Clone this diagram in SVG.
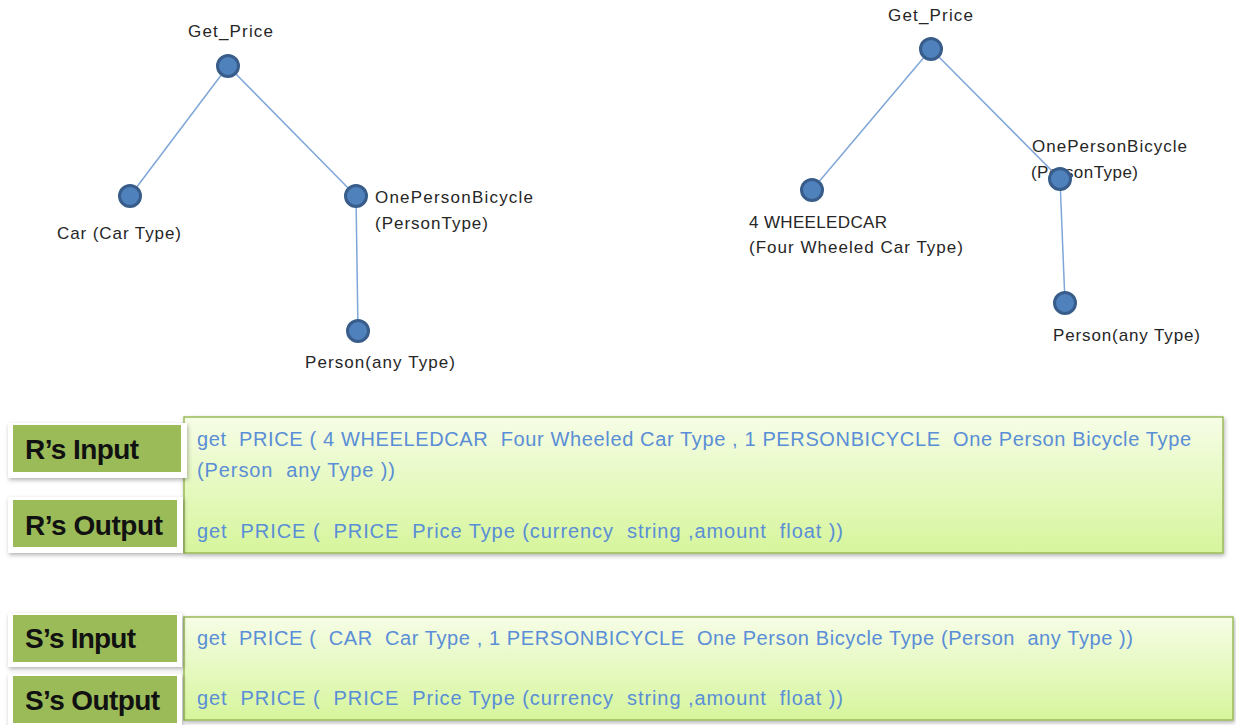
<svg xmlns="http://www.w3.org/2000/svg" width="1236" height="725" viewBox="0 0 1236 725">
<style>
.lbl{font-family:"Liberation Sans",Arial,sans-serif;font-size:17px;fill:#262626}
.nd{fill:#4F81BD;stroke:#385D8A;stroke-width:3}
.ed{stroke:#7FA6D8;stroke-width:1.5;fill:none}
.tag{font-family:"Liberation Sans",Arial,sans-serif;font-size:28px;font-weight:bold;fill:#111}
.code{font-family:"Liberation Sans",Arial,sans-serif;font-size:20px;fill:#5A8ED6;white-space:pre}
.frame{fill:#fff}
.green{fill:#9BBB59}
.box{fill:url(#bg);stroke:#9BBB59;stroke-width:1.5}
</style>
<defs>
<linearGradient id="bg" x1="0" y1="0" x2="0" y2="1">
<stop offset="0" stop-color="#F6FDE6"/>
<stop offset="1" stop-color="#D6F59C"/>
</linearGradient>
<filter id="sh" x="-5%" y="-10%" width="110%" height="130%">
<feDropShadow dx="1" dy="2" stdDeviation="2" flood-color="#000" flood-opacity="0.3"/>
</filter>
</defs>
<g id="l-root"><text class="lbl" x="188" y="37" textLength="85">Get_Price</text></g>
<g id="l-car"><text class="lbl" x="57" y="239" textLength="124">Car (Car Type)</text></g>
<g id="l-opb"><text class="lbl" x="375" y="203" textLength="158">OnePersonBicycle</text><text class="lbl" x="375" y="229" textLength="113">(PersonType)</text></g>
<g id="l-person"><text class="lbl" x="305" y="368" textLength="150">Person(any Type)</text></g>
<g id="r-root"><text class="lbl" x="888" y="21" textLength="85">Get_Price</text></g>
<g id="r-car"><text class="lbl" x="749" y="228" textLength="138">4 WHEELEDCAR</text><text class="lbl" x="749" y="253" textLength="214">(Four Wheeled Car Type)</text></g>
<g id="r-opb"><text class="lbl" x="1032" y="152" textLength="155">OnePersonBicycle</text><text class="lbl" x="1031" y="178" textLength="107">(PersonType)</text></g>
<g id="r-person"><text class="lbl" x="1053" y="341" textLength="147">Person(any Type)</text></g>
<g id="connectors">
<line class="ed" x1="228" y1="66" x2="130" y2="196"/>
<line class="ed" x1="228" y1="66" x2="356" y2="196"/>
<line class="ed" x1="356" y1="196" x2="358" y2="331"/>
<line class="ed" x1="931" y1="49" x2="812" y2="190"/>
<line class="ed" x1="931" y1="49" x2="1060" y2="179"/>
<line class="ed" x1="1060" y1="179" x2="1065" y2="303"/>
</g>
<g id="nodes">
<circle id="l-root-dot" class="nd" cx="228" cy="66" r="10.5"/>
<circle id="l-car-dot" class="nd" cx="130" cy="196" r="10.5"/>
<circle id="l-opb-dot" class="nd" cx="356" cy="196" r="10.5"/>
<circle id="l-person-dot" class="nd" cx="358" cy="331" r="10.5"/>
<circle id="r-root-dot" class="nd" cx="931" cy="49" r="10.5"/>
<circle id="r-car-dot" class="nd" cx="812" cy="190" r="10.5"/>
<circle id="r-opb-dot" class="nd" cx="1060" cy="179" r="10.5"/>
<circle id="r-person-dot" class="nd" cx="1065" cy="303" r="10.5"/>
</g>
<g id="r-box">
<rect class="box" x="184" y="417" width="1039" height="136" filter="url(#sh)"/>
<text class="code" x="197" y="446" textLength="994">get  PRICE ( 4 WHEELEDCAR  Four Wheeled Car Type , 1 PERSONBICYCLE  One Person Bicycle Type</text>
<text class="code" x="197" y="477" textLength="198">(Person  any Type ))</text>
<text class="code" x="197" y="538" textLength="646">get  PRICE (  PRICE  Price Type (currency  string ,amount  float ))</text>
</g>
<g id="r-input"><rect class="frame" x="8" y="423" width="179" height="55" filter="url(#sh)"/><rect class="green" x="13" y="425" width="168" height="47"/><text class="tag" x="25" y="459" textLength="114">R’s Input</text></g>
<g id="r-output"><rect class="frame" x="8" y="497" width="175" height="56" filter="url(#sh)"/><rect class="green" x="13" y="500" width="164" height="47"/><text class="tag" x="25" y="535" textLength="138">R’s Output</text></g>
<g id="s-box">
<rect class="box" x="184" y="617" width="1049" height="103" filter="url(#sh)"/>
<text class="code" x="197" y="645" textLength="936">get  PRICE (  CAR  Car Type , 1 PERSONBICYCLE  One Person Bicycle Type (Person  any Type ))</text>
<text class="code" x="197" y="705" textLength="646">get  PRICE (  PRICE  Price Type (currency  string ,amount  float ))</text>
</g>
<g id="s-input"><rect class="frame" x="8" y="613" width="174" height="54" filter="url(#sh)"/><rect class="green" x="13" y="615" width="164" height="47"/><text class="tag" x="25" y="648" textLength="111">S’s Input</text></g>
<g id="s-output"><rect class="frame" x="8" y="674" width="174" height="55" filter="url(#sh)"/><rect class="green" x="13" y="676" width="164" height="47"/><text class="tag" x="25" y="710" textLength="135">S’s Output</text></g>
</svg>
